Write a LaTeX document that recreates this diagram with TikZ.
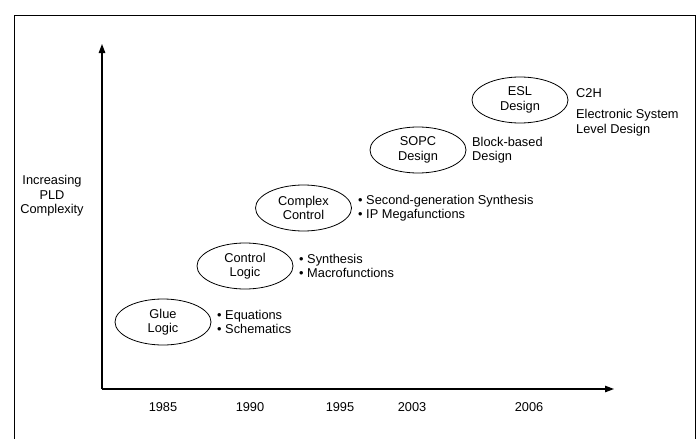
\documentclass[tikz,border=0pt]{standalone}
\usepackage{fontspec}
\setmainfont{Liberation Sans}
\usetikzlibrary{shapes.geometric,arrows.meta}
\begin{document}
\begin{tikzpicture}[x=1pt,y=-1pt,
  every node/.style={font=\fontsize{12.8}{14.6}\selectfont, inner sep=0pt},
  era/.style={draw, ellipse, line width=0.8pt, minimum width=96pt, minimum height=46pt, align=center},
  lbl/.style={anchor=west, align=left},
  axis/.style={line width=1.2pt, -{Triangle[length=9pt,width=6.5pt]}}]
\useasboundingbox (0,0) rectangle (699,439);
\clip (0,0) rectangle (699,439);
\draw[line width=1pt] (14,460) -- (14,15) -- (695,15) -- (695,460);
\coordinate (o) at (102,389);
\coordinate (ytop) at (102,44);
\coordinate (xend) at (614,389);
\draw[axis] (o) -- (ytop);
\draw[axis] (o) -- (xend);
\node[align=center] (ylab) at (52,196) {Increasing\\PLD\\Complexity};
\node[era] (glue) at (163,322) {Glue\\Logic};
\node[era] (ctrl) at (245,266) {Control\\Logic};
\node[era] (cplx) at (303.5,208) {Complex\\Control};
\node[era] (sopc) at (418,150) {SOPC\\Design};
\node[era] (esl) at (520,100) {ESL\\Design};
\node[lbl] (glueL) at (217,322) {• Equations\\• Schematics};
\node[lbl] (ctrlL) at (299,266) {• Synthesis\\• Macrofunctions};
\node[lbl] (cplxL) at (358,208) {• Second-generation Synthesis\\• IP Megafunctions};
\node[lbl] (sopcL) at (472,150) {Block-based\\Design};
\node[lbl, anchor=north west] (eslA) at (576,88) {C2H};
\node[lbl, anchor=north west] (eslB) at (576,109) {Electronic System\\Level Design};
\node (y85) at (163,407) {1985};
\node (y90) at (250,407) {1990};
\node (y95) at (340,407) {1995};
\node (y03) at (412,407) {2003};
\node (y06) at (529,407) {2006};
\end{tikzpicture}
\end{document}
